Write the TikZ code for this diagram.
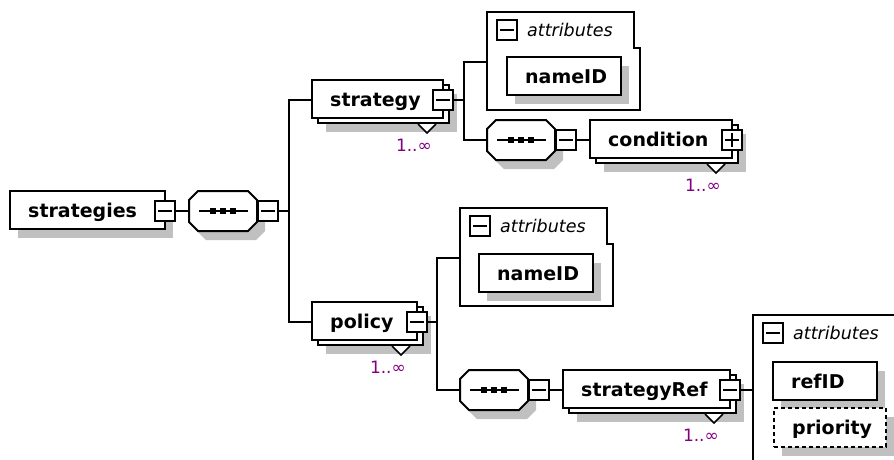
\documentclass[tikz,border=0pt]{standalone}
\usepackage{fontspec}
\setmainfont{DejaVu Sans}
\usetikzlibrary{calc,shadows}

\definecolor{shadowgray}{RGB}{192,192,192}
\definecolor{occurs}{RGB}{128,0,128}

\tikzset{
  wire/.style={draw=black, line width=2pt},
  framed/.style={draw=black, line width=2pt},
  boxshadow/.style={drop shadow={opacity=1, fill=shadowgray, shadow xshift=8pt, shadow yshift=-9pt}},
  elembox/.style={rectangle, framed, fill=white, inner sep=0pt, minimum height=38pt},
  attrbox/.style={rectangle, framed, fill=white, boxshadow, inner sep=0pt, minimum height=38pt},
  togglebox/.style={rectangle, draw=black, line width=2pt, fill=white, inner sep=0pt, minimum size=20pt},
  minusbox/.style={togglebox, path picture={
      \draw[line width=2pt] ([xshift=3pt]path picture bounding box.west) -- ([xshift=-3pt]path picture bounding box.east);}},
  plusbox/.style={togglebox, path picture={
      \draw[line width=2pt] ([xshift=3pt]path picture bounding box.west) -- ([xshift=-3pt]path picture bounding box.east)
        ([yshift=-3pt]path picture bounding box.north) -- ([yshift=3pt]path picture bounding box.south);}},
  ename/.style={inner sep=0pt, anchor=base west, font=\fontsize{19}{22}\selectfont\bfseries},
  atitle/.style={inner sep=0pt, anchor=base west, font=\fontsize{17.5}{20}\selectfont\itshape},
  occurlabel/.style={inner sep=0pt, anchor=base east, text=occurs, font=\fontsize{17}{20}\selectfont},
  % element that occurs once: box, name, expand/collapse toggle
  pics/singleelem/.style n args={3}{code={
    \node[elembox, boxshadow, minimum width=#1pt] (-box) at ({#1/2},-1) {};
    \node[ename] (-name) at (18,6) {#2};
    \node[#3] (-pm) at (#1,0) {};
  }},
  % repeating element: stacked boxes, occurrence marker and range
  pics/multielem/.style n args={3}{code={
    \node[elembox, boxshadow, minimum width=#1pt] (-back) at ({#1/2+6},4) {};
    \filldraw[fill=white, draw=black, line width=1.6pt] ({#1-25},24) -- ({#1-16},33) -- ({#1-7},24);
    \node[elembox, minimum width=#1pt] (-box) at ({#1/2},-1) {};
    \node[ename] (-name) at (18,6) {#2};
    \node[#3] (-pm) at (#1,0) {};
    \node[occurlabel] (-occ) at ({#1-11},51.5) {1..∞};
  }},
  % sequence compositor: octagon with dotted bar
  pics/sequence/.style={code={
    \fill[shadowgray] (-17,-11) -- (33,-11) -- (42,-2) -- (42,20) -- (33,29) -- (-17,29) -- (-26,20) -- (-26,-2) -- cycle;
    \node[rectangle, inner sep=0pt, minimum width=68pt, minimum height=40pt] (-box) at (0,0) {};
    \draw[framed, fill=white] (-25,-20) -- (25,-20) -- (34,-11) -- (34,11) -- (25,20) -- (-25,20) -- (-34,11) -- (-34,-11) -- cycle;
    \draw[wire] (-24,0) -- (25,0);
    \foreach \dx in {-10,0,10} \fill (\dx-3,-3) rectangle (\dx+3,3);
    \node[minusbox] (-pm) at (45,0) {};
  }},
  % attribute group frame with its title
  pics/attrgroup/.style={code={
    \draw[framed, fill=white] (0,0) -- (147,0) -- (147,36) -- (153,36) -- (153,98) -- (0,98) -- cycle;
    \coordinate (-in) at (0,50);
    \node[minusbox] (-pm) at (20,18) {};
    \node[atitle] (-title) at (40,24.5) {attributes};
  }},
}

\begin{document}
\begin{tikzpicture}[x=1pt, y=-1pt]
  \useasboundingbox (0,0) rectangle (894,459);
  \clip (0,0) rectangle (894,459);

  % root and its sequence
  \pic (strategies) at (10,211) {singleelem={155}{strategies}{minusbox}};
  \pic (seq1) at (223,211) {sequence};
  \coordinate (bus1) at (289,211);

  % strategy branch
  \pic (strategy) at (312,100) {multielem={131}{strategy}{minusbox}};
  \coordinate (bus2) at (464,100);
  \pic (attrs1) at (487,12) {attrgroup};
  \node[attrbox, minimum width=114pt] (nameid1) at (564,76) {};
  \node[ename] (nameid1-name) at ($(nameid1.west)+(19,7)$) {nameID};
  \pic (seq2) at (521,140) {sequence};
  \pic (condition) at (590,140) {multielem={142}{condition}{plusbox}};

  % policy branch
  \pic (policy) at (312,322) {multielem={105}{policy}{minusbox}};
  \coordinate (bus3) at (437,322);
  \pic (attrs2) at (460,208) {attrgroup};
  \node[attrbox, minimum width=114pt] (nameid2) at (536,273) {};
  \node[ename] (nameid2-name) at ($(nameid2.west)+(19,7)$) {nameID};
  \pic (seq3) at (494,390) {sequence};
  \pic (strategyref) at (563,390) {multielem={167}{strategyRef}{minusbox}};

  % attributes of strategyRef
  \draw[framed, fill=white] (753,315) rectangle (960,520);
  \coordinate (attrs3-in) at (753,390);
  \node[minusbox] (attrs3-pm) at (773,333) {};
  \node[atitle] (attrs3-title) at (793,339.5) {attributes};
  \node[attrbox, minimum width=104pt] (refid) at (825,381) {};
  \node[ename] (refid-name) at ($(refid.west)+(19,7)$) {refID};
  \node[attrbox, dash pattern=on 4pt off 3pt, minimum width=112pt, minimum height=39pt] (priority) at (830,427.5) {};
  \node[ename] (priority-name) at ($(priority.west)+(19,7)$) {priority};

  % connectors
  \draw[wire] (strategies-pm.east) -- (seq1-box.west);
  \draw[wire] (seq1-pm.east) -- (bus1);
  \draw[wire] (strategy-pm -| strategy-box.west) -| (bus1) |- (policy-pm -| policy-box.west);

  \draw[wire] (strategy-pm.east) -- (bus2);
  \draw[wire] (attrs1-in) -| (bus2) |- (seq2-box.west);
  \draw[wire] (seq2-pm.east) -- (seq2-pm.east -| condition-box.west);

  \draw[wire] (policy-pm.east) -- (bus3);
  \draw[wire] (attrs2-in) -| (bus3) |- (seq3-box.west);
  \draw[wire] (seq3-pm.east) -- (seq3-pm.east -| strategyref-box.west);
  \draw[wire] (strategyref-pm.east) -- (attrs3-in);
\end{tikzpicture}
\end{document}
